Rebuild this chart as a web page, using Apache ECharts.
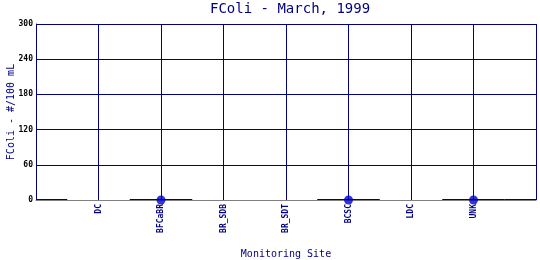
<!DOCTYPE html>
<html><head><meta charset="utf-8">
<script src="https://cdn.jsdelivr.net/npm/echarts@6/dist/echarts.min.js"></script>
<style>html,body{margin:0;padding:0;background:#fff}#c{width:540px;height:260px}</style>
</head><body><div id="c"></div>
<script>
var sites = ['DC','BFCaBR','BR_SDB','BR_SDT','BCSC','LDC','UNK'];
var fcoli = [null, 0, null, null, 0, null, 0];
var segPos = [0, 2, 5, 7, 8];
var segVal = [0, 0, 0, 0, 0];
var yTicks = [0, 60, 120, 180, 240, 300];

var NAVY = '#000080';
var FONT = 'DejaVu Sans Mono';
var chart = echarts.init(document.getElementById('c'));
var pts = [];
sites.forEach(function(s, i){ if (fcoli[i] !== null) pts.push([i + 1, fcoli[i]]); });
var segs = segPos.map(function(p, i){ return [p, segVal[i]]; });

chart.setOption({
  animation: false,
  backgroundColor: '#fff',
  title: { text: 'FColi - March, 1999', left: 205, top: -3,
    textStyle: { fontFamily: FONT, fontSize: 14, fontWeight: 'normal', color: NAVY } },
  grid: { left: 36, right: 4, top: 24, bottom: 60, containLabel: false, outerBoundsMode: 'none' },
  xAxis: {
    type: 'value', min: 0, max: sites.length + 1, interval: 1,
    name: 'Monitoring Site', nameLocation: 'middle', nameGap: 49, nameMoveOverlap: false,
    nameTextStyle: { fontFamily: FONT, fontSize: 10, color: NAVY },
    axisLine: { show: true, lineStyle: { color: '#808080', width: 1 } },
    axisTick: { show: false },
    splitLine: { show: true, lineStyle: { color: NAVY, width: 1 } },
    axisLabel: { rotate: 90, fontFamily: FONT, fontSize: 8, fontWeight: 'bold', color: NAVY, margin: 4,
      formatter: function(v){ var i = Math.round(v) - 1; return (i >= 0 && i < sites.length) ? sites[i] : ''; } }
  },
  yAxis: {
    type: 'value', min: yTicks[0], max: yTicks[yTicks.length - 1], interval: yTicks[1] - yTicks[0],
    name: 'FColi - #/100 mL', nameLocation: 'middle', nameGap: 20, nameMoveOverlap: false,
    nameTextStyle: { fontFamily: FONT, fontSize: 10, color: NAVY },
    axisLine: { show: true, lineStyle: { color: NAVY, width: 1 } },
    axisTick: { show: false },
    splitLine: { show: true, lineStyle: { color: ['#808080', NAVY, NAVY, NAVY, NAVY, NAVY], width: 1 } },
    axisLabel: { fontFamily: FONT, fontSize: 8, fontWeight: 'bold', color: '#000', margin: 3 }
  },
  series: [
    { type: 'custom', data: segs, clip: true, z: 3,
      renderItem: function(params, api){
        var x = api.value(0), y = api.value(1);
        var a = api.coord([x - 0.5, y]), b = api.coord([x + 0.5, y]);
        var cs = params.coordSys;
        var x1 = Math.max(a[0], cs.x), x2 = Math.min(b[0], cs.x + cs.width);
        return { type: 'line', shape: { x1: x1, y1: a[1], x2: x2, y2: b[1] },
          style: { stroke: NAVY, lineWidth: 2 } };
      } },
    { type: 'scatter', data: pts, symbol: 'circle', symbolSize: 9, z: 4,
      itemStyle: { color: '#0000cc' } }
  ]
});
</script></body></html>
